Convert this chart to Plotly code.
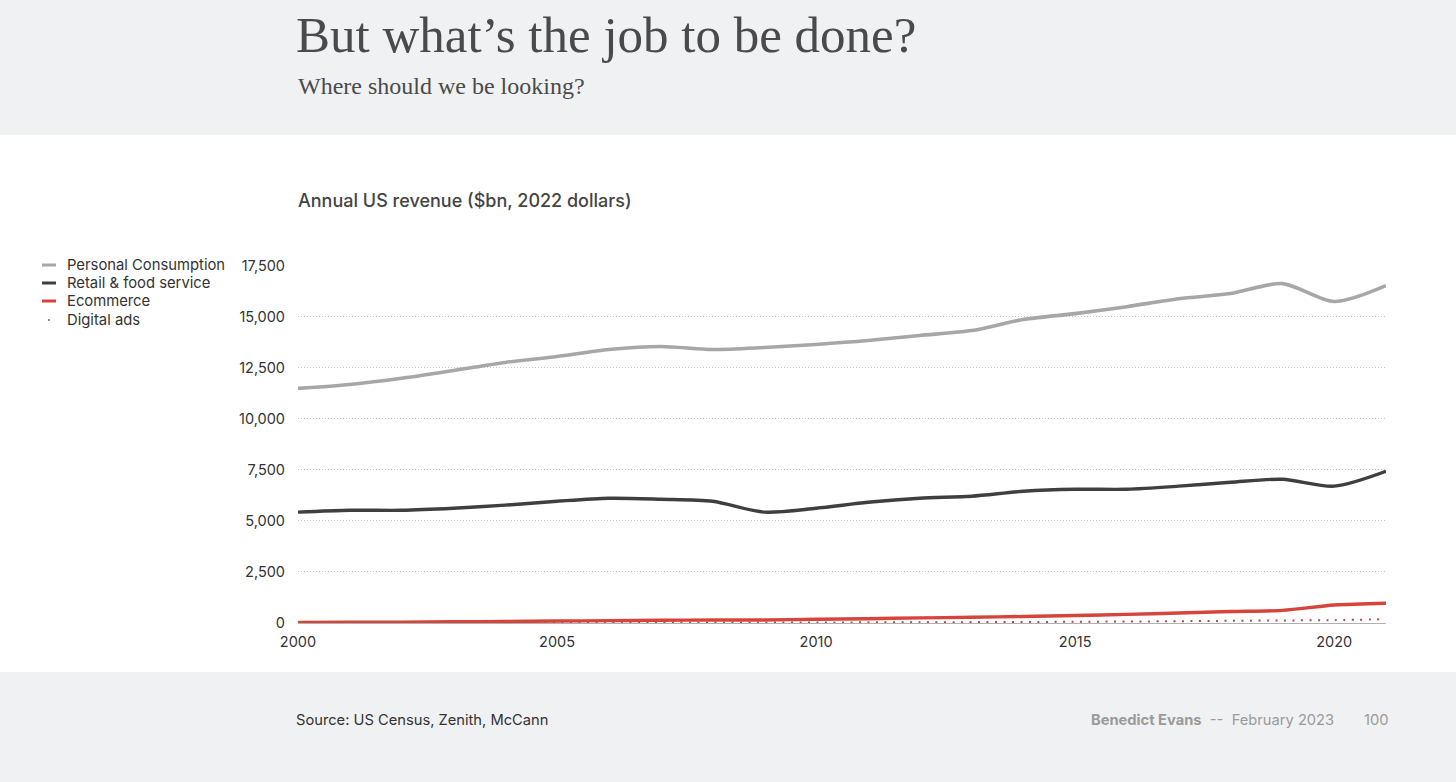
import plotly.graph_objects as go

years = list(range(2000, 2022))
personal_consumption = [11490, 11680, 11980, 12360, 12760, 13050, 13390, 13540, 13390, 13490, 13640,
                        13830, 14080, 14320, 14860, 15150, 15490, 15880, 16130, 16620, 15740, 16520]
retail_food = [5430, 5520, 5520, 5620, 5770, 5960, 6110, 6060, 5960, 5430, 5620,
               5910, 6110, 6210, 6450, 6550, 6550, 6700, 6890, 7040, 6700, 7430]
ecommerce = [30, 35, 45, 60, 75, 95, 115, 135, 145, 150, 180,
             210, 250, 280, 320, 370, 420, 490, 560, 620, 880, 970]
digital_ads = [8, 7, 6, 7, 10, 13, 17, 21, 23, 23, 26,
               32, 37, 43, 50, 60, 73, 88, 108, 125, 140, 190]

series_names = ["Personal Consumption", "Retail & food service", "Ecommerce", "Digital ads"]
y_ticks = [0, 2500, 5000, 7500, 10000, 12500, 15000, 17500]
x_ticks = [2000, 2005, 2010, 2015, 2020]

W, H = 1456, 782
L, R, T, B = 298, 70, 265, 159
pw, ph = W - L - R, H - T - B


def px_x(p):
    return (p - L) / pw


def px_y(p):
    return (H - B - p) / ph


colors = ["#a7a7a7", "#3f3f3f", "#d6453c", "#b8484c"]
fig = go.Figure()
fig.add_trace(go.Scatter(x=years, y=personal_consumption, mode="lines", name=series_names[0],
                         line=dict(color=colors[0], width=3.6, shape="spline", smoothing=0.8)))
fig.add_trace(go.Scatter(x=years, y=retail_food, mode="lines", name=series_names[1],
                         line=dict(color=colors[1], width=3.4, shape="spline", smoothing=0.8)))
fig.add_trace(go.Scatter(x=years, y=digital_ads, mode="lines", name=series_names[3],
                         line=dict(color=colors[3], width=2, dash="2px,6.5px", shape="spline", smoothing=0.8)))
fig.add_trace(go.Scatter(x=years, y=ecommerce, mode="lines", name=series_names[2],
                         line=dict(color=colors[2], width=3.4, shape="spline", smoothing=0.8)))

shapes = [
    dict(type="rect", xref="paper", yref="paper", x0=px_x(0), x1=px_x(W), y0=px_y(672), y1=px_y(135),
         fillcolor="white", line=dict(width=0), layer="below"),
]


def ann(text, x, y, xanchor, size, color, family="Inter", weight=None):
    f = dict(family=family, size=size, color=color)
    if weight:
        f["weight"] = weight
    return dict(text=text, xref="paper", yref="paper", x=px_x(x), y=px_y(y), xanchor=xanchor,
                yanchor="middle", showarrow=False, font=f)


annotations = [
    ann("But what’s the job to be done?", 294, 35, "left", 51, "#4a4a4a", family="Liberation Serif"),
    ann("Where should we be looking?", 296, 86, "left", 24, "#4a4a4a", family="Liberation Serif"),
    ann("Annual US revenue ($bn, 2022 dollars)", 296, 200, "left", 18, "#444444", weight=500),
    ann("Source: US Census, Zenith, McCann", 294, 720, "left", 14.7, "#333333"),
    ann("<b>Benedict Evans</b>  --  February 2023", 1336, 720, "right", 14.7, "#9a9a9a"),
    ann("100", 1391, 720, "right", 14.7, "#9a9a9a"),
]

# custom legend
leg_y = [265, 283, 301, 320]
for i, name in enumerate(series_names):
    c = colors[i]
    if i < 3:
        shapes.append(dict(type="line", xref="paper", yref="paper", x0=px_x(42), x1=px_x(56),
                           y0=px_y(leg_y[i]), y1=px_y(leg_y[i]), line=dict(color=c, width=3)))
    else:
        shapes.append(dict(type="circle", xref="paper", yref="paper", x0=px_x(48), x1=px_x(50),
                           y0=px_y(leg_y[i] + 1), y1=px_y(leg_y[i] - 1), fillcolor=c, line=dict(width=0)))
    annotations.append(ann(name, 65, leg_y[i], "left", 14.8, "#333333"))

fig.update_layout(
    width=W, height=H, autosize=False,
    margin=dict(l=L, r=R, t=T, b=B, pad=0),
    paper_bgcolor="#f0f1f3", plot_bgcolor="white",
    showlegend=False,
    shapes=shapes, annotations=annotations,
    xaxis=dict(range=[2000, 2021], tickvals=x_ticks, ticktext=[str(v) for v in x_ticks],
               showgrid=False, zeroline=False, showline=True, linecolor="#b0b0b0", linewidth=1,
               ticks="", ticklabelstandoff=6,
               tickfont=dict(family="Inter", size=14.5, color="#333333")),
    yaxis=dict(range=[0, 17530], tickvals=y_ticks, tickformat=",", showgrid=True, gridcolor="#c4c4c4",
               griddash="1px,2px", gridwidth=1, zeroline=False, showline=False, ticks="",
               ticklabelstandoff=12,
               tickfont=dict(family="Inter", size=14.5, color="#333333")),
)

fig.write_html("out.html", config={"displayModeBar": False},
               post_script="document.body.style.margin='0';")
